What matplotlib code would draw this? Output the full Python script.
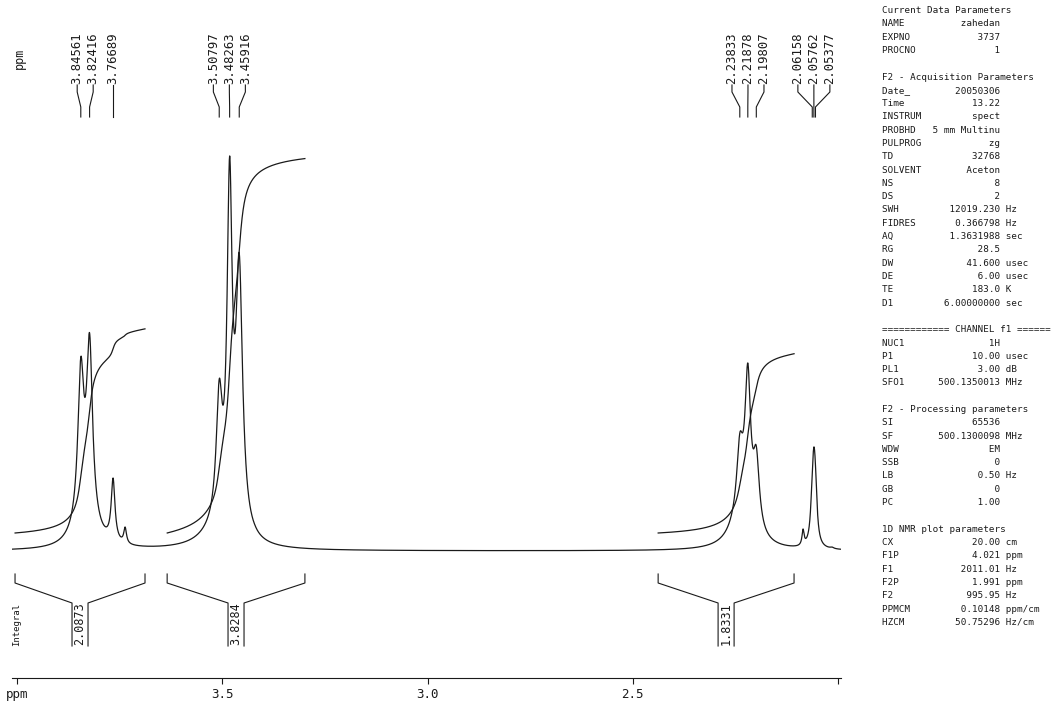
import numpy as np
import matplotlib
matplotlib.use('Agg')
import matplotlib.pyplot as plt

# peaks: position (ppm), height above baseline, half width (ppm)
peak_ppm = [3.84561, 3.82416, 3.76689, 3.7375,
            3.50797, 3.48263, 3.45916, 3.4210,
            2.23833, 2.21878, 2.19807, 2.0841,
            2.06158, 2.05762, 2.05377, 2.0134]
peak_height = [194, 218, 73, 24,
               172, 395, 298, 26,
               118, 188, 105, 22,
               80, 104, 86, 4]
peak_hwhm = [0.0086, 0.0086, 0.0055, 0.0040,
             0.0088, 0.0075, 0.0098, 0.0050,
             0.0090, 0.0082, 0.0090, 0.0030,
             0.0049, 0.0049, 0.0049, 0.0049]

# broad feet under the multiplets
broad_ppm = [3.835, 3.51, 2.232]
broad_height = [30, 15, 34]
broad_hwhm = [0.028, 0.05, 0.03]

# picked peaks printed on top
label_ppm = [3.84561, 3.82416, 3.76689,
             3.50797, 3.48263, 3.45916,
             2.23833, 2.21878, 2.19807,
             2.06158, 2.05762, 2.05377]

# integral regions
int_start = [4.006, 3.635, 2.4375]
int_end = [3.689, 3.299, 2.106]
int_value = [2.0873, 3.8284, 1.8331]

params = [
    ("Current Data Parameters",),
    ("NAME", "zahedan", ""),
    ("EXPNO", "3737", ""),
    ("PROCNO", "1", ""),
    None,
    ("F2 - Acquisition Parameters",),
    ("Date_", "20050306", ""),
    ("Time", "13.22", ""),
    ("INSTRUM", "spect", ""),
    ("PROBHD", "5 mm Multinu", ""),
    ("PULPROG", "zg", ""),
    ("TD", "32768", ""),
    ("SOLVENT", "Aceton", ""),
    ("NS", "8", ""),
    ("DS", "2", ""),
    ("SWH", "12019.230", "Hz"),
    ("FIDRES", "0.366798", "Hz"),
    ("AQ", "1.3631988", "sec"),
    ("RG", "28.5", ""),
    ("DW", "41.600", "usec"),
    ("DE", "6.00", "usec"),
    ("TE", "183.0", "K"),
    ("D1", "6.00000000", "sec"),
    None,
    ("============ CHANNEL f1 ======",),
    ("NUC1", "1H", ""),
    ("P1", "10.00", "usec"),
    ("PL1", "3.00", "dB"),
    ("SFO1", "500.1350013", "MHz"),
    None,
    ("F2 - Processing parameters",),
    ("SI", "65536", ""),
    ("SF", "500.1300098", "MHz"),
    ("WDW", "EM", ""),
    ("SSB", "0", ""),
    ("LB", "0.50", "Hz"),
    ("GB", "0", ""),
    ("PC", "1.00", ""),
    None,
    ("1D NMR plot parameters",),
    ("CX", "20.00", "cm"),
    ("F1P", "4.021", "ppm"),
    ("F1", "2011.01", "Hz"),
    ("F2P", "1.991", "ppm"),
    ("F2", "995.95", "Hz"),
    ("PPMCM", "0.10148", "ppm/cm"),
    ("HZCM", "50.75296", "Hz/cm"),
]

MONO = 'DejaVu Sans Mono'
INK = '#1a1a1a'
W, H = 1057, 704
BASE = 551            # baseline row in pixels
PX = 1 / 410.0        # ppm per pixel


def ypx(v):
    return BASE - v


def lorentz(x, x0, w):
    return 1.0 / (1.0 + ((x - x0) / w) ** 2)


def build_spectrum(x):
    pp = np.array(peak_ppm)
    hh = np.array(peak_height, dtype=float)
    ww = np.array(peak_hwhm)
    broad = np.zeros_like(x)
    broad_at_peaks = np.zeros_like(pp)
    for c, a, w in zip(broad_ppm, broad_height, broad_hwhm):
        broad += a * lorentz(x, c, w)
        broad_at_peaks += a * lorentz(pp, c, w)
    # amplitudes so that the summed trace reaches the read heights
    A = lorentz(pp[:, None], pp[None, :], ww[None, :])
    amps = np.linalg.solve(A, hh - broad_at_peaks)
    spec = broad.copy()
    for c, a, w in zip(pp, amps, ww):
        spec += a * lorentz(x, c, w)
    return spec


def spread_labels(pos, gap):
    clusters = [[p] for p in sorted(pos, reverse=True)]

    def place(cl):
        m = np.mean(cl)
        n = len(cl)
        return [m - (i - (n - 1) / 2) * gap for i in range(n)]

    merged = True
    while merged:
        merged = False
        for i in range(len(clusters) - 1):
            if place(clusters[i])[-1] - place(clusters[i + 1])[0] < gap:
                clusters[i] = clusters[i] + clusters.pop(i + 1)
                merged = True
                break
    out = []
    for cl in clusters:
        out += place(cl)
    return out


fig = plt.figure(figsize=(W / 100, H / 100), dpi=100)
ax = fig.add_axes([12 / W, 0, 829 / W, 1])
ax.set_xlim(4.0134, 1.9915)
ax.set_ylim(BASE - H, BASE)

ppm = np.linspace(4.0134, 1.9915, 8000)
spec = build_spectrum(ppm)
ax.plot(ppm, spec, color=INK, lw=0.9)

# integral traces and brackets
for s, e, v in zip(int_start, int_end, int_value):
    m = (ppm <= s) & (ppm >= e)
    cum = np.cumsum(spec[m])
    ax.plot(ppm[m], 18 + v * 97.8 * cum / cum[-1], color=INK, lw=0.9)
    c = (s + e) / 2
    d = 8 * PX
    ax.plot([s, s, c + d, c + d], [ypx(574), ypx(583), ypx(603), ypx(646)],
            color=INK, lw=0.8)
    ax.plot([e, e, c - d, c - d], [ypx(574), ypx(583), ypx(603), ypx(646)],
            color=INK, lw=0.8)
    ax.text(c, ypx(624), f"{v:.4f}", rotation=90, ha='center', va='center',
            family=MONO, fontsize=8.5, color=INK)

# peak labels with their leader lines
lab_x = spread_labels(label_ppm, 16 * PX)
for p, xl in zip(sorted(label_ppm, reverse=True), lab_x):
    ax.text(xl, ypx(84), f"{p:.5f}", rotation=90, ha='center', va='bottom',
            family=MONO, fontsize=8.8, color=INK)
    ax.plot([xl, xl, p, p], [ypx(85), ypx(92), ypx(107), ypx(117)],
            color=INK, lw=0.8)

# ppm scale
for sp in ['top', 'left', 'right']:
    ax.spines[sp].set_visible(False)
ax.spines['bottom'].set_position(('data', ypx(678)))
ax.spines['bottom'].set_color(INK)
ax.spines['bottom'].set_linewidth(0.8)
ax.set_yticks([])
ax.set_xticks([4.0, 3.5, 3.0, 2.5, 2.0])
ax.set_xticklabels(['ppm', '3.5', '3.0', '2.5', ''])
ax.tick_params(axis='x', direction='out', length=4.5, width=0.8, pad=3,
               labelsize=9, colors=INK)
for t in ax.get_xticklabels():
    t.set_family(MONO)

fig.text(19.5 / W, 1 - 58 / H, "ppm", rotation=90, ha='center', va='center',
         family=MONO, fontsize=8.5, color=INK)
fig.text(17 / W, 1 - 624 / H, "Integral", rotation=90, ha='center', va='center',
         family=MONO, fontsize=6.5, color=INK)

# parameter listing
for i, row in enumerate(params):
    if row is None:
        continue
    if len(row) == 1:
        line = row[0]
    else:
        line = f"{row[0]:<8}{row[1]:>13} {row[2]}"
    fig.text(882 / W, 1 - (10.5 + i * 13.3) / H, line, ha='left', va='center',
             family=MONO, fontsize=6.7, color=INK)

fig.savefig('out.png', dpi=100, facecolor='white')
